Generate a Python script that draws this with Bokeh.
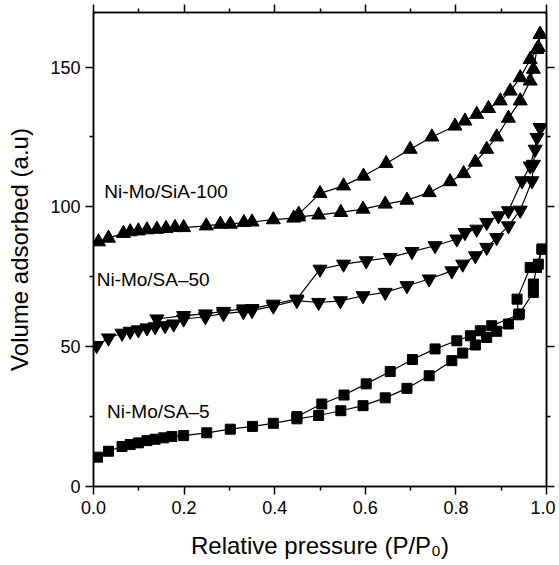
from bokeh.plotting import figure
from bokeh.models import LinearAxis, PrintfTickFormatter, FixedTicker, Range1d, CustomJSTickFormatter
from bokeh.embed import file_html
from bokeh.resources import INLINE
from bokeh.core.properties import value

# SA-5 (squares)
sa5_ads_x = [0.009, 0.033, 0.063, 0.081, 0.099, 0.118, 0.136, 0.155, 0.173, 0.199, 0.25, 0.302, 0.351, 0.397, 0.449,
             0.497, 0.546, 0.595, 0.644, 0.692, 0.741, 0.791, 0.815, 0.843, 0.868, 0.89, 0.916, 0.94, 0.971, 0.971, 0.978, 0.99]
sa5_ads_y = [10.5, 12.6, 14.3, 15.0, 15.6, 16.4, 16.9, 17.4, 17.9, 18.2, 19.2, 20.5, 21.5, 22.6, 24.2,
             25.4, 27.1, 28.9, 31.7, 35.1, 39.6, 45.0, 47.7, 50.6, 53.3, 55.5, 58.1, 61.7, 69.4, 72.4, 78.3, 84.9]
sa5_des_x = [0.99, 0.982, 0.964, 0.935, 0.938, 0.879, 0.854, 0.832, 0.802, 0.754, 0.704, 0.655, 0.602, 0.553, 0.504, 0.449]
sa5_des_y = [84.9, 79.5, 78.3, 67.0, 61.4, 57.5, 55.7, 53.9, 52.1, 49.2, 45.4, 41.1, 36.7, 32.7, 29.5, 25.0]

# SA-50 (down triangles)
sa50_ads_x = [0.007, 0.033, 0.063, 0.081, 0.099, 0.118, 0.136, 0.158, 0.177, 0.199, 0.247, 0.287, 0.331, 0.35, 0.397, 0.449,
              0.497, 0.545, 0.595, 0.644, 0.692, 0.741, 0.791, 0.815, 0.843, 0.868, 0.89, 0.916, 0.942, 0.968, 0.971, 0.975, 0.979, 0.986]
sa50_ads_y = [50.4, 53.1, 54.8, 55.5, 56.0, 56.7, 57.1, 57.5, 58.1, 59.9, 60.7, 61.8, 62.5, 62.9, 64.5, 66.5,
              65.8, 66.4, 68.2, 69.4, 71.8, 74.2, 77.1, 79.5, 82.5, 85.5, 89.0, 93.2, 98.8, 109.3, 115.2, 120.6, 124.8, 128.3]
sa50_des_x = [0.986, 0.964, 0.946, 0.916, 0.894, 0.868, 0.846, 0.82, 0.802, 0.754, 0.703, 0.655, 0.602, 0.552, 0.5,
              0.449, 0.397, 0.35, 0.331, 0.287, 0.247, 0.199, 0.14]
sa50_des_y = [128.3, 114.6, 109.3, 98.6, 96.8, 94.4, 92.0, 90.8, 88.5, 86.1, 84.0, 81.9, 80.7, 79.5, 77.7,
              67.0, 65.2, 63.6, 63.5, 62.6, 61.7, 61.1, 59.9]

# SiA-100 (up triangles)
sia100_ads_x = [0.011, 0.033, 0.066, 0.081, 0.099, 0.118, 0.14, 0.16, 0.18, 0.199, 0.249, 0.28, 0.302, 0.332, 0.35, 0.397, 0.442, 0.453,
                0.497, 0.546, 0.595, 0.644, 0.692, 0.741, 0.787, 0.817, 0.843, 0.868, 0.89, 0.916, 0.942, 0.964, 0.971, 0.979, 0.986]
sia100_ads_y = [87.5, 88.8, 90.5, 91.1, 91.4, 91.8, 92.0, 92.3, 92.6, 92.6, 93.2, 93.8, 93.8, 94.4, 94.6, 95.4, 96.0, 96.4,
                97.1, 98.0, 99.2, 101.0, 102.4, 105.1, 109.0, 111.9, 116.0, 120.6, 125.0, 131.7, 137.9, 145.0, 149.2, 156.3, 161.7]
sia100_des_x = [0.986, 0.982, 0.964, 0.942, 0.92, 0.898, 0.872, 0.846, 0.82, 0.798, 0.747, 0.699, 0.646, 0.596, 0.552, 0.5, 0.453]
sia100_des_y = [161.7, 157.0, 152.7, 146.2, 141.4, 137.9, 135.2, 133.1, 130.7, 128.9, 125.0, 120.6, 115.5, 111.0, 107.5, 104.8, 97.4]

labels = ["Ni-Mo/SiA-100", "Ni-Mo/SA\u201350", "Ni-Mo/SA\u20135"]
label_x = [0.024, 0.007, 0.03]
label_y = [105.5, 73.9, 26.9]

p = figure(width=555, height=561, output_backend="svg", toolbar_location=None,
           x_range=Range1d(0, 1.0), y_range=Range1d(0, 169.5),
           min_border_left=93, min_border_right=9, min_border_top=12, min_border_bottom=75)
p.grid.visible = False
p.outline_line_color = "black"
p.outline_line_width = 1.5
p.background_fill_color = "white"
p.border_fill_color = "white"

font = "Liberation Sans"

def style(ax, labels=True):
    ax.axis_line_color = "black"
    ax.axis_line_width = 1.5
    ax.major_tick_line_color = "black"
    ax.minor_tick_line_color = "black"
    ax.major_tick_line_width = 1.5
    ax.minor_tick_line_width = 1.5
    ax.major_tick_in = 0
    ax.major_tick_out = 8
    ax.minor_tick_in = 0
    ax.minor_tick_out = 4
    ax.major_label_text_font = font
    ax.major_label_text_font_size = "18px"
    ax.major_label_text_color = "black"
    ax.axis_label_text_font = font
    ax.axis_label_text_font_size = "24px"
    ax.axis_label_text_font_style = "normal"
    ax.axis_label_text_color = "black"
    if not labels:
        ax.formatter = CustomJSTickFormatter(code="return '';")

xt = FixedTicker(ticks=[0, 0.2, 0.4, 0.6, 0.8, 1.0], minor_ticks=[0.1, 0.3, 0.5, 0.7, 0.9])
yt = FixedTicker(ticks=[0, 50, 100, 150], minor_ticks=[25, 75, 125])

p.xaxis.ticker = xt
p.yaxis.ticker = yt
p.xaxis.formatter = PrintfTickFormatter(format="%.1f")
p.xaxis.axis_label = "Relative pressure (P/P\u2080)"
p.yaxis.axis_label = "Volume adsorbed (a.u)"
p.xaxis.major_label_standoff = 6
p.xaxis.axis_label_standoff = 15
p.yaxis.major_label_standoff = 5
p.yaxis.axis_label_standoff = 14
style(p.xaxis[0])
style(p.yaxis[0])

top = LinearAxis(ticker=xt)
right = LinearAxis(ticker=yt)
style(top, False)
style(right, False)
top.major_label_standoff = 0
right.major_label_standoff = 0
p.add_layout(top, "above")
p.add_layout(right, "right")

for ax_x, ax_y, dx, dy, marker, sz in [
    (sa5_ads_x, sa5_ads_y, sa5_des_x, sa5_des_y, "square", 10),
    (sa50_ads_x, sa50_ads_y, sa50_des_x, sa50_des_y, "inverted_triangle", 14),
    (sia100_ads_x, sia100_ads_y, sia100_des_x, sia100_des_y, "triangle", 14),
]:
    p.line(ax_x, ax_y, line_color="black", line_width=1.2)
    p.line(dx, dy, line_color="black", line_width=1.2)
    p.scatter(ax_x, ax_y, marker=marker, size=sz, fill_color="black", line_color="black")
    p.scatter(dx, dy, marker=marker, size=sz, fill_color="black", line_color="black")

p.text(x=label_x, y=label_y, text=labels, text_font=value(font), text_font_size="19px",
       text_color="black", text_baseline="middle", text_align="left")

open("out.html", "w").write(file_html(p, INLINE))
